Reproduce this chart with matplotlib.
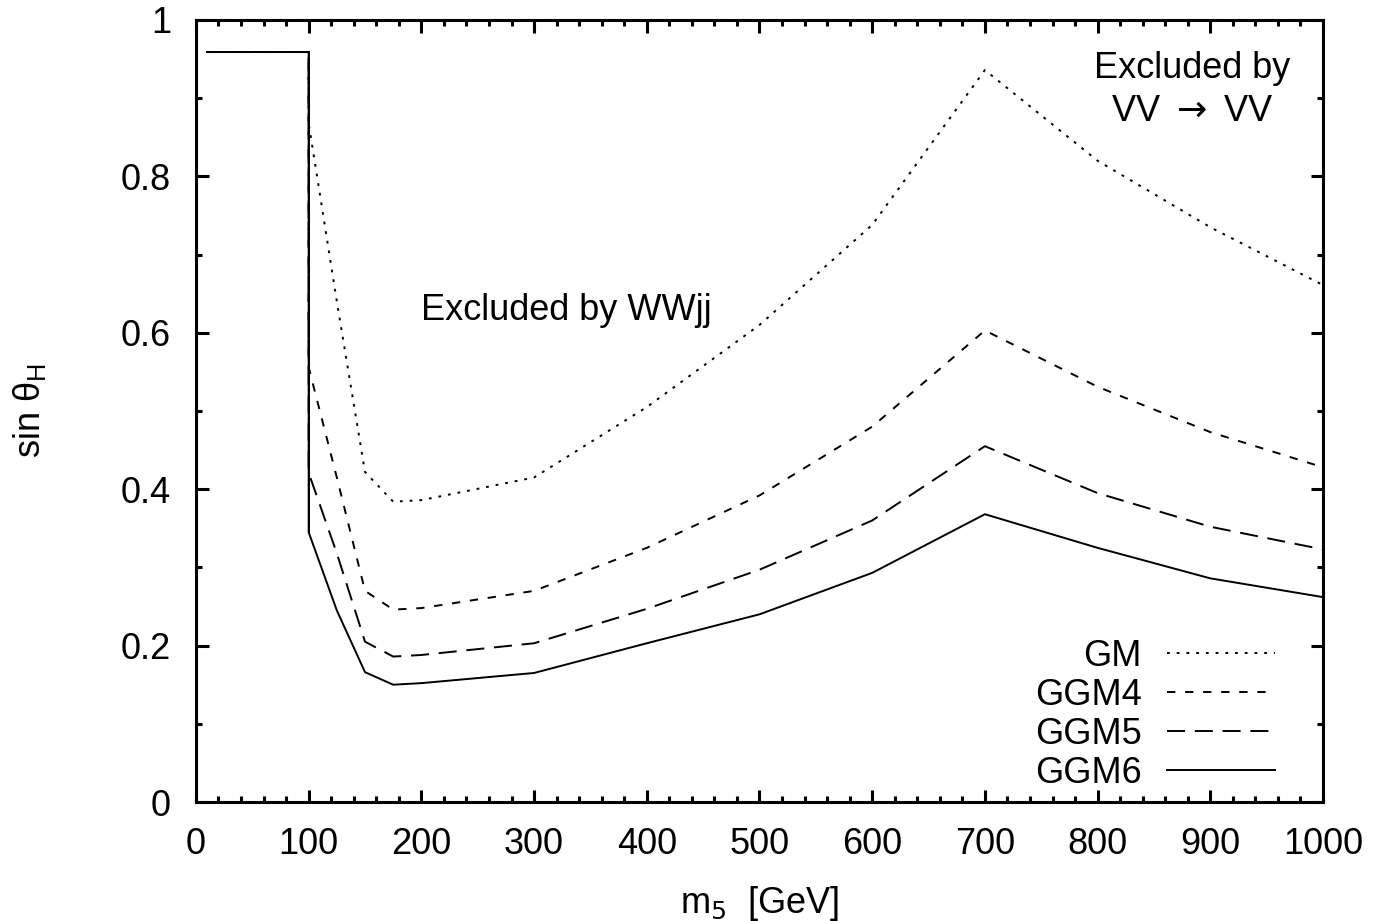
import numpy as np
import matplotlib.pyplot as plt
from matplotlib.ticker import MultipleLocator

plt.rcParams['font.family'] = ['Liberation Sans', 'DejaVu Sans']
plt.rcParams['lines.scale_dashes'] = False

# common plateau below 100 GeV
m_low = [10, 100]
s_low = [0.959, 0.959]

# mass points above 100 GeV
m5 = [100, 125, 150, 175, 200, 300, 400, 500, 600, 700, 800, 900, 1000]
gm = [0.868, 0.640, 0.422, 0.384, 0.386, 0.415, 0.505, 0.610, 0.738, 0.936, 0.820, 0.735, 0.661]
ggm4 = [0.556, 0.415, 0.270, 0.246, 0.248, 0.270, 0.325, 0.392, 0.480, 0.603, 0.531, 0.473, 0.428]
ggm5 = [0.421, 0.318, 0.205, 0.186, 0.188, 0.203, 0.247, 0.297, 0.360, 0.455, 0.395, 0.352, 0.323]
ggm6 = [0.345, 0.245, 0.166, 0.150, 0.152, 0.165, 0.203, 0.240, 0.293, 0.368, 0.325, 0.286, 0.262]

series = [("GM", gm, (2, 5)), ("GGM4", ggm4, (6, 7)),
          ("GGM5", ggm5, (13, 7)), ("GGM6", ggm6, None)]

FS = 26

fig = plt.figure(figsize=(13.77, 9.21), dpi=100)
ax = fig.add_axes([0.1423, 0.1292, 0.8185, 0.8491])

for name, vals, dash in series:
    x = m_low + m5
    y = s_low + vals
    line, = ax.plot(x, y, color='black', lw=1.4, label=name)
    if dash is not None:
        line.set_dashes(dash)
# solid vertical drop at 100 drawn on top
ax.plot([100, 100], [s_low[-1], ggm6[0]], color='black', lw=1.4)
ax.plot(m_low, s_low, color='black', lw=1.4)

ax.set_xlim(0, 1000)
ax.set_ylim(0, 1)
ax.xaxis.set_major_locator(MultipleLocator(100))
ax.xaxis.set_minor_locator(MultipleLocator(20))
ax.yaxis.set_major_locator(MultipleLocator(0.2))
ax.yaxis.set_minor_locator(MultipleLocator(0.1))
ax.yaxis.set_major_formatter(plt.FuncFormatter(lambda v, p: f"{v:g}"))

ax.tick_params(which='both', direction='in', top=True, right=True, width=2.2,
               labelsize=FS)
ax.tick_params(which='major', length=9)
ax.tick_params(which='minor', length=4.5)
ax.tick_params(axis='x', pad=18)
ax.tick_params(axis='y', pad=18)
for sp in ax.spines.values():
    sp.set_linewidth(2.2)

ax.set_xlabel(r"m$_5$  [GeV]", fontsize=FS, labelpad=16)
ax.set_ylabel(r"sin $\mathregular{\theta_H}$", fontsize=FS, labelpad=52)

ax.text(329, 0.629, "Excluded by WWjj", fontsize=FS, ha='center', va='center')
ax.text(884, 0.91, "Excluded by\nVV $\\rightarrow$ VV", fontsize=FS, ha='center',
        va='center', linespacing=1.3)

leg = ax.legend(loc='lower right', frameon=False, markerfirst=False, fontsize=FS,
                handlelength=3.0, handletextpad=0.7, labelspacing=0.11,
                borderaxespad=0.3, bbox_to_anchor=(0.98, -0.018))
for t in leg.get_texts():
    t.set_ha('right')

fig.savefig("out.png", dpi=100)
